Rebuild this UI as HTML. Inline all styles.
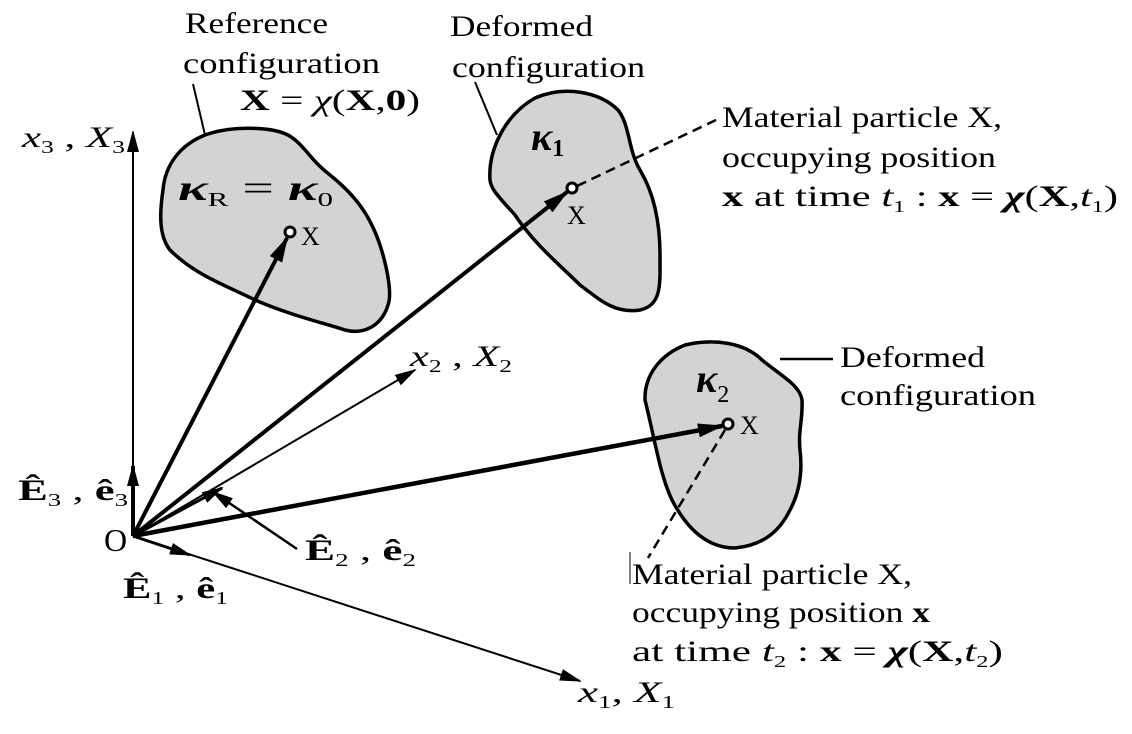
<!DOCTYPE html>
<html><head><style>
html,body{margin:0;padding:0;background:#fff;}
svg{display:block;}
text{font-family:"Liberation Serif",serif;fill:#000;}
</style></head><body>
<svg width="1132" height="734" viewBox="0 0 1132 734" xmlns="http://www.w3.org/2000/svg">
<defs>
<marker id="ahb" markerWidth="26" markerHeight="14" refX="24" refY="7" orient="auto" markerUnits="userSpaceOnUse"><path d="M0,0 L26,7 L0,14 Z" fill="#000"/></marker>
<marker id="ahs" markerWidth="22" markerHeight="12" refX="20" refY="6" orient="auto" markerUnits="userSpaceOnUse"><path d="M0,0 L22,6 L0,12 Z" fill="#000"/></marker>
</defs>
<path d="M163,190 C165,165 180,145 205,135 C230,126 270,126 288,135 C305,145 310,160 330,175 C355,195 370,215 380,245 C388,270 392,295 388,305 C382,325 365,335 345,330 C320,322 290,315 255,300 C225,285 195,275 170,250 C158,235 160,210 163,190 Z" fill="#d3d3d3" stroke="#000" stroke-width="3.5"/>
<path d="M490,180 C488,150 505,115 535,98 C565,85 600,92 618,110 C630,125 628,150 640,170 C655,195 660,225 660,255 C660,285 662,305 640,310 C615,314 600,300 580,285 C560,265 535,245 515,215 C500,198 491,190 490,180 Z" fill="#d3d3d3" stroke="#000" stroke-width="3.5"/>
<path d="M645,398 C645,375 660,355 685,345 C715,338 745,343 762,360 C780,375 800,385 802,400 C803,420 798,430 800,450 C803,475 798,495 790,510 C780,530 765,545 735,548 C705,548 685,525 672,500 C660,475 655,440 645,400 Z" fill="#d3d3d3" stroke="#000" stroke-width="3.5"/>
<line x1="133" y1="536" x2="133" y2="132" stroke="#000" stroke-width="2" marker-end="url(#ahs)"/>
<line x1="133" y1="536" x2="580" y2="681" stroke="#000" stroke-width="2" marker-end="url(#ahs)"/>
<line x1="133" y1="536" x2="415" y2="370" stroke="#000" stroke-width="2" marker-end="url(#ahs)"/>
<line x1="133" y1="536" x2="133" y2="466" stroke="#000" stroke-width="4" marker-end="url(#ahs)"/>
<line x1="133" y1="536" x2="190" y2="555" stroke="#000" stroke-width="3" marker-end="url(#ahs)"/>
<line x1="133" y1="536" x2="222" y2="488" stroke="#000" stroke-width="3" marker-end="url(#ahs)"/>
<line x1="297" y1="549" x2="213" y2="492" stroke="#000" stroke-width="2.5" marker-end="url(#ahs)"/>
<line x1="133" y1="536" x2="287" y2="238" stroke="#000" stroke-width="4" marker-end="url(#ahb)"/>
<line x1="133" y1="536" x2="567" y2="192" stroke="#000" stroke-width="4" marker-end="url(#ahb)"/>
<line x1="133" y1="536" x2="722" y2="426" stroke="#000" stroke-width="4.5" marker-end="url(#ahb)"/>
<circle cx="290" cy="232" r="5" fill="#fff" stroke="#000" stroke-width="3"/>
<circle cx="572" cy="188" r="5" fill="#fff" stroke="#000" stroke-width="3"/>
<circle cx="728" cy="424" r="5" fill="#fff" stroke="#000" stroke-width="3"/>
<line x1="205" y1="135" x2="193" y2="84" stroke="#000" stroke-width="2"/>
<line x1="497" y1="135" x2="475" y2="82" stroke="#000" stroke-width="2"/>
<line x1="780" y1="359" x2="833" y2="359" stroke="#000" stroke-width="2.5"/>
<line x1="577" y1="186" x2="716" y2="120" stroke="#000" stroke-width="2.5" stroke-dasharray="10,6"/>
<line x1="725" y1="430" x2="648" y2="558" stroke="#000" stroke-width="2.5" stroke-dasharray="10,6"/>
<line x1="630" y1="552" x2="630" y2="584" stroke="#000" stroke-width="1"/>
<g font-size="30">
<text x="185" y="33" textLength="143" lengthAdjust="spacingAndGlyphs">Reference</text>
<text x="183" y="73" textLength="197" lengthAdjust="spacingAndGlyphs">configuration</text>
<text x="240" y="110" textLength="180" lengthAdjust="spacingAndGlyphs"><tspan font-weight="bold">X</tspan> = <tspan font-style="italic">χ</tspan>(<tspan font-weight="bold">X</tspan>,<tspan font-weight="bold">0</tspan>)</text>
<text x="450" y="36" textLength="143" lengthAdjust="spacingAndGlyphs">Deformed</text>
<text x="452" y="77" textLength="193" lengthAdjust="spacingAndGlyphs">configuration</text>
<text x="722" y="127" textLength="280" lengthAdjust="spacingAndGlyphs">Material particle X,</text>
<text x="722" y="167" textLength="274" lengthAdjust="spacingAndGlyphs">occupying position</text>
<text x="722" y="206" textLength="396" lengthAdjust="spacingAndGlyphs"><tspan font-weight="bold">x</tspan> at time <tspan font-style="italic">t</tspan><tspan font-size="17" dy="6">1</tspan><tspan dy="-6"> :  </tspan><tspan font-weight="bold">x</tspan> = <tspan font-style="italic" font-weight="bold">χ</tspan>(<tspan font-weight="bold">X</tspan>,<tspan font-style="italic">t</tspan><tspan font-size="17" dy="6">1</tspan><tspan dy="-6">)</tspan></text>
<text x="840" y="367" textLength="145" lengthAdjust="spacingAndGlyphs">Deformed</text>
<text x="840" y="405" textLength="196" lengthAdjust="spacingAndGlyphs">configuration</text>
<text x="632" y="584" textLength="280" lengthAdjust="spacingAndGlyphs">Material particle X,</text>
<text x="632" y="622" textLength="298" lengthAdjust="spacingAndGlyphs">occupying position <tspan font-weight="bold">x</tspan></text>
<text x="632" y="661" textLength="371" lengthAdjust="spacingAndGlyphs">at time <tspan font-style="italic">t</tspan><tspan font-size="17" dy="6">2</tspan><tspan dy="-6"> :  </tspan><tspan font-weight="bold">x</tspan> = <tspan font-style="italic" font-weight="bold">χ</tspan>(<tspan font-weight="bold">X</tspan>,<tspan font-style="italic">t</tspan><tspan font-size="17" dy="6">2</tspan><tspan dy="-6">)</tspan></text>
<text x="22" y="147" textLength="103" lengthAdjust="spacingAndGlyphs"><tspan font-style="italic">x</tspan><tspan font-size="18" dy="6">3</tspan><tspan dy="-6"> , </tspan><tspan font-style="italic">X</tspan><tspan font-size="18" dy="6">3</tspan></text>
<text x="410" y="366" textLength="102" lengthAdjust="spacingAndGlyphs"><tspan font-style="italic">x</tspan><tspan font-size="18" dy="6">2</tspan><tspan dy="-6"> , </tspan><tspan font-style="italic">X</tspan><tspan font-size="18" dy="6">2</tspan></text>
<text x="578" y="702" textLength="97" lengthAdjust="spacingAndGlyphs"><tspan font-style="italic">x</tspan><tspan font-size="18" dy="6">1</tspan><tspan dy="-6">, </tspan><tspan font-style="italic">X</tspan><tspan font-size="18" dy="6">1</tspan></text>
<text x="104" y="551" font-size="32">O</text>
<text x="18" y="500" font-weight="bold" textLength="110" lengthAdjust="spacingAndGlyphs">Ê<tspan font-size="18" font-weight="normal" dy="6">3</tspan><tspan dy="-6" font-weight="normal"> , </tspan>ê<tspan font-size="18" font-weight="normal" dy="6">3</tspan></text>
<text x="123" y="598" font-weight="bold" textLength="105" lengthAdjust="spacingAndGlyphs">Ê<tspan font-size="18" font-weight="normal" dy="6">1</tspan><tspan dy="-6" font-weight="normal"> , </tspan>ê<tspan font-size="18" font-weight="normal" dy="6">1</tspan></text>
<text x="305" y="560" font-weight="bold" textLength="111" lengthAdjust="spacingAndGlyphs">Ê<tspan font-size="18" font-weight="normal" dy="6">2</tspan><tspan dy="-6" font-weight="normal"> , </tspan>ê<tspan font-size="18" font-weight="normal" dy="6">2</tspan></text>
<text x="178" y="200" font-style="italic" font-weight="bold" font-size="36" textLength="155" lengthAdjust="spacingAndGlyphs">κ<tspan font-size="20" font-style="normal" font-weight="normal" dy="6">R</tspan><tspan dy="-6" font-style="normal" font-weight="normal"> = </tspan>κ<tspan font-size="20" font-style="normal" font-weight="normal" dy="6">0</tspan></text>
<text x="531" y="150" font-style="italic" font-weight="bold" font-size="40">κ<tspan font-size="24" font-style="normal" dy="6">1</tspan></text>
<text x="696" y="392" font-style="italic" font-weight="bold" font-size="40">κ<tspan font-size="24" font-style="normal" font-weight="normal" dy="10">2</tspan></text>
<text x="301" y="245" font-size="26">X</text>
<text x="567" y="224" font-size="26">X</text>
<text x="740" y="434" font-size="26">X</text>
</g>
</svg>
</body></html>
